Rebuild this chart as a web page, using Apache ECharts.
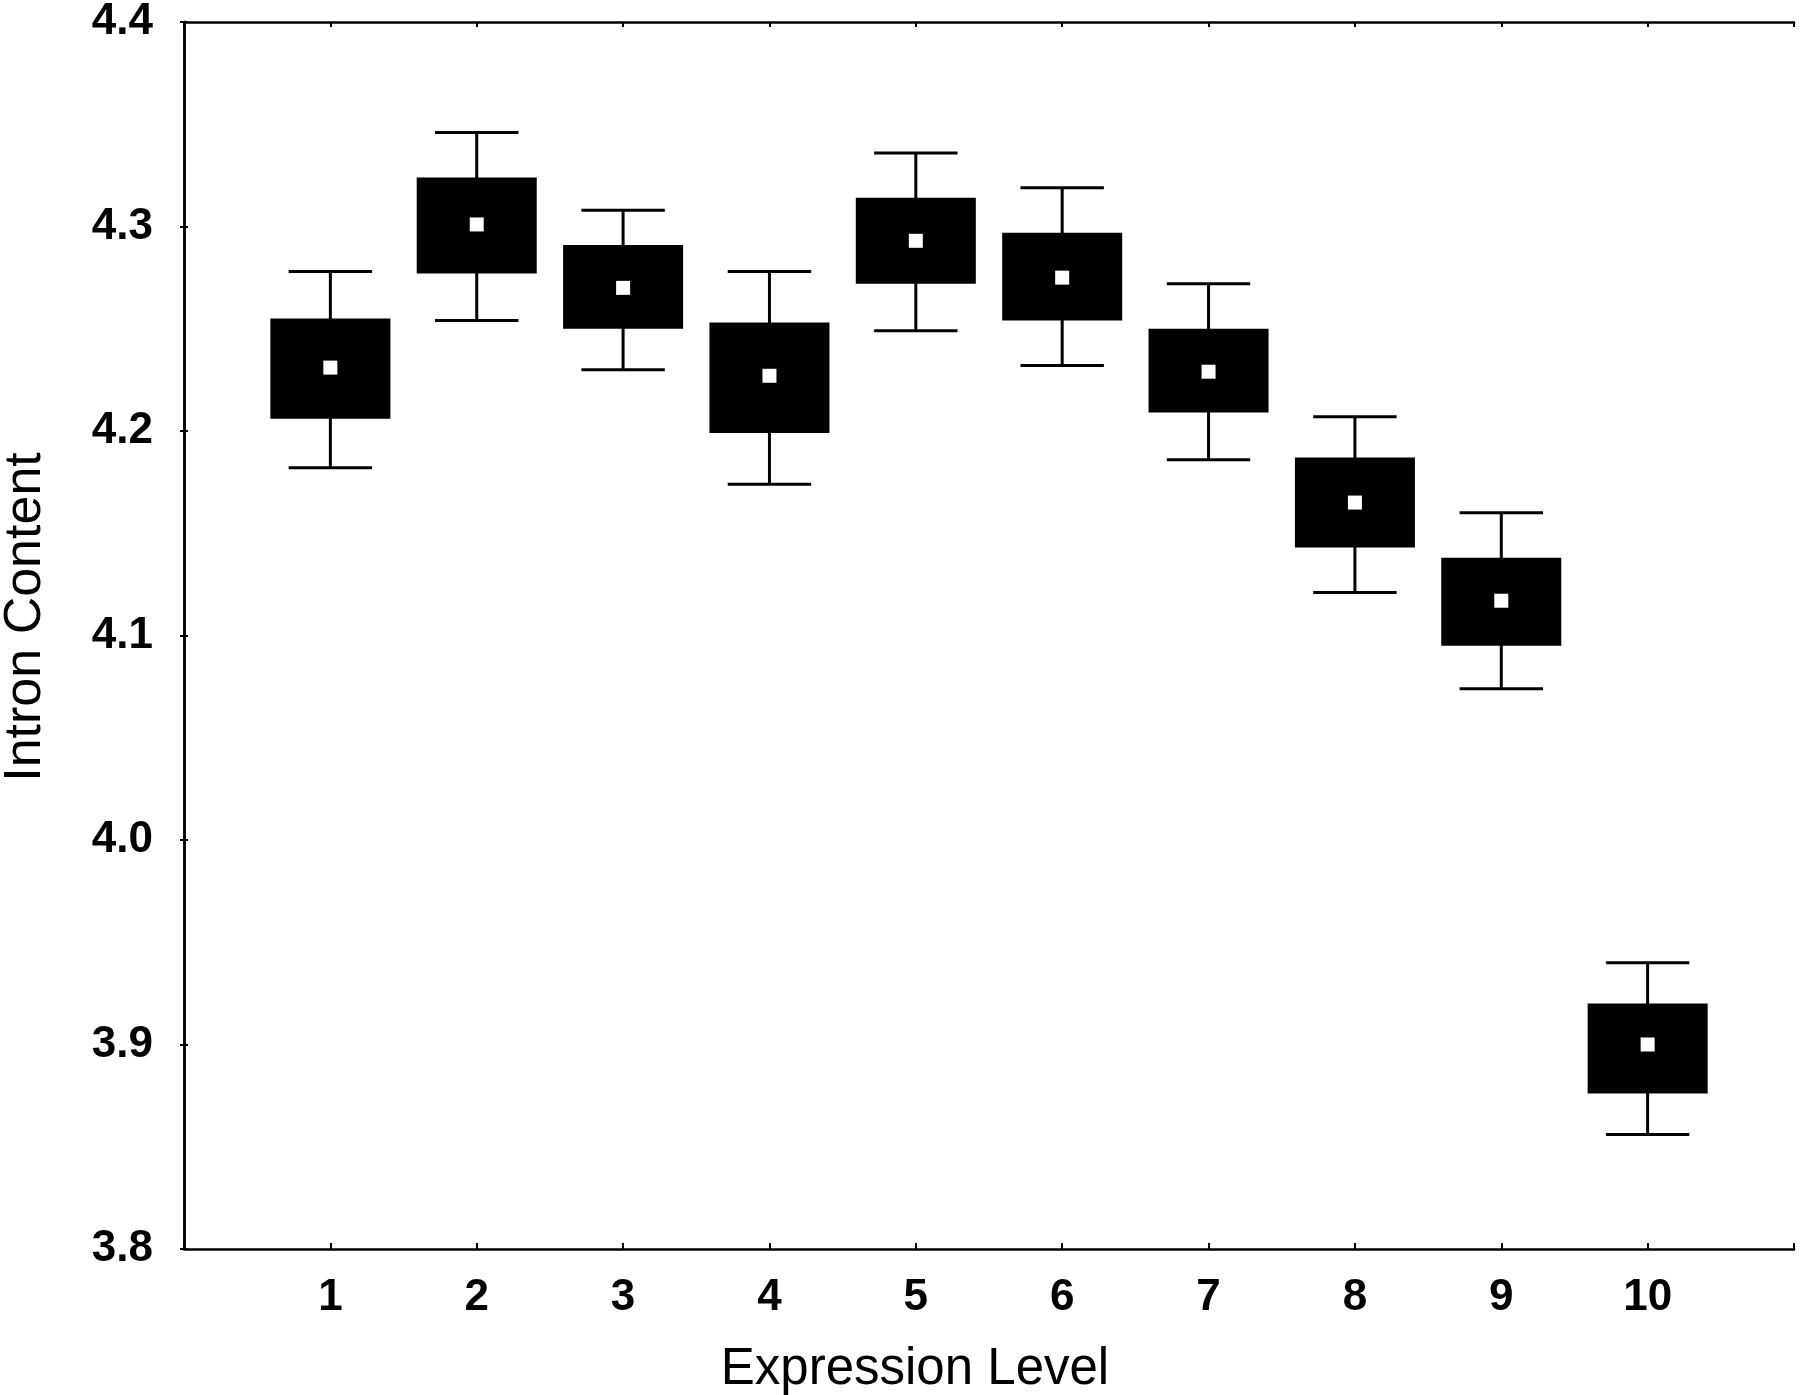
<!DOCTYPE html>
<html>
<head>
<meta charset="utf-8">
<script src="https://cdn.jsdelivr.net/npm/echarts@6/dist/echarts.min.js"></script>
<style>
  html, body { margin: 0; padding: 0; background: #fff; }
  #chart { width: 1800px; height: 1395px; }
</style>
</head>
<body>
<div id="chart"></div>
<script>
// expression level groups and intron content (mean, box = +-SE, whiskers = +-1.96 SE)
const levels = [1, 2, 3, 4, 5, 6, 7, 8, 9, 10]
const means = [4.231, 4.301, 4.270, 4.227, 4.293, 4.275, 4.229, 4.165, 4.117, 3.900]
const boxLow = [4.206, 4.277, 4.250, 4.199, 4.272, 4.254, 4.209, 4.143, 4.095, 3.876]
const boxHigh = [4.255, 4.324, 4.291, 4.253, 4.314, 4.297, 4.250, 4.187, 4.138, 3.920]
const whiskerLow = [4.182, 4.254, 4.230, 4.174, 4.249, 4.232, 4.186, 4.121, 4.074, 3.856]
const whiskerHigh = [4.278, 4.346, 4.308, 4.278, 4.336, 4.319, 4.272, 4.207, 4.160, 3.940]
const yTicks = [3.8, 3.9, 4.0, 4.1, 4.2, 4.3, 4.4]

const chart = echarts.init(document.getElementById('chart'))

const boxData = levels.map((lv, i) => [lv, means[i], boxLow[i], boxHigh[i], whiskerLow[i], whiskerHigh[i]])

// ticks point into the plot frame
const tick = len => ({ show: true, inside: true, length: len, lineStyle: { color: '#000', width: 2 } })
const axisLine = () => ({ show: true, lineStyle: { color: '#000', width: 2.5 } })
const fontFamily = '"Liberation Sans", Arial, sans-serif'

function renderBox(params, api) {
  const x = api.value(0)
  const mid = api.coord([x, api.value(1)])
  const bLo = api.coord([x, api.value(2)])
  const bHi = api.coord([x, api.value(3)])
  const wLo = api.coord([x, api.value(4)])
  const wHi = api.coord([x, api.value(5)])
  const boxW = api.size([0.82, 0])[0]
  const capW = api.size([0.57, 0])[0]
  const dot = 14
  const ls = { stroke: '#000', lineWidth: 3 }
  return {
    type: 'group',
    children: [
      { type: 'line', shape: { x1: mid[0], y1: wHi[1], x2: mid[0], y2: wLo[1] }, style: ls },
      { type: 'line', shape: { x1: mid[0] - capW / 2, y1: wHi[1], x2: mid[0] + capW / 2, y2: wHi[1] }, style: ls },
      { type: 'line', shape: { x1: mid[0] - capW / 2, y1: wLo[1], x2: mid[0] + capW / 2, y2: wLo[1] }, style: ls },
      { type: 'rect', shape: { x: mid[0] - boxW / 2, y: bHi[1], width: boxW, height: bLo[1] - bHi[1] }, style: { fill: '#000' } },
      { type: 'rect', shape: { x: mid[0] - dot / 2, y: mid[1] - dot / 2, width: dot, height: dot }, style: { fill: '#fff' } }
    ]
  }
}

chart.setOption({
  backgroundColor: '#fff',
  animation: false,
  grid: { left: 184, right: 6, top: 21, bottom: 146 },
  xAxis: [
    {
      type: 'value', min: 0, max: 11, interval: 1,
      axisLine: axisLine(), axisTick: tick(6), splitLine: { show: false },
      axisLabel: {
        color: '#000', fontSize: 44, fontWeight: 'bold', fontFamily, margin: 27,
        formatter: v => (levels.includes(v) ? String(v) : '')
      }
    },
    {
      type: 'value', position: 'top', min: 0, max: 11, interval: 1,
      axisLine: axisLine(), axisTick: tick(5), splitLine: { show: false },
      axisLabel: { show: false }
    }
  ],
  yAxis: [
    {
      type: 'value', min: yTicks[0], max: yTicks[yTicks.length - 1], interval: 0.1,
      axisLine: axisLine(), axisTick: tick(4), splitLine: { show: false },
      axisLabel: {
        color: '#000', fontSize: 44, fontWeight: 'bold', fontFamily, margin: 31,
        formatter: v => v.toFixed(1)
      }
    },
    {
      type: 'value', position: 'right', min: yTicks[0], max: yTicks[yTicks.length - 1], interval: 0.1,
      axisLine: axisLine(), axisTick: tick(4), splitLine: { show: false },
      axisLabel: { show: false }
    }
  ],
  graphic: [
    {
      type: 'text', x: 915, y: 1370,
      style: { text: 'Expression Level', fill: '#000', font: '51px "Liberation Sans", Arial, sans-serif', textAlign: 'center', textVerticalAlign: 'middle' }
    },
    {
      type: 'text', x: 26, y: 617, rotation: Math.PI / 2,
      style: { text: 'Intron Content', fill: '#000', font: '52px "Liberation Sans", Arial, sans-serif', textAlign: 'center', textVerticalAlign: 'middle' }
    }
  ],
  series: [
    {
      type: 'custom',
      renderItem: renderBox,
      encode: { x: 0, y: [1, 2, 3, 4, 5] },
      data: boxData,
      clip: false
    }
  ]
})
</script>
</body>
</html>
